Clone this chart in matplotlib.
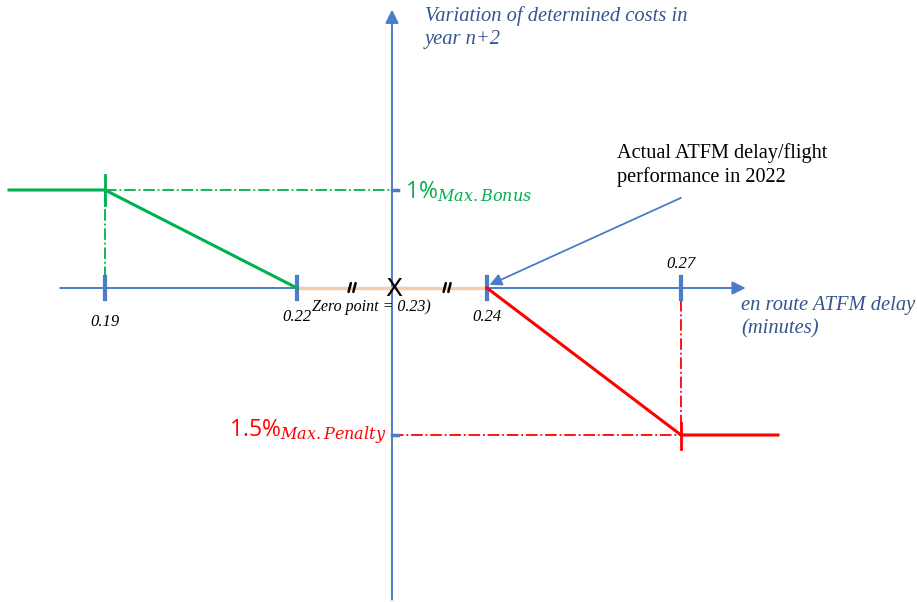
import numpy as np
import matplotlib.pyplot as plt

# tick values on the delay axis (minutes) and the cost variation (%)
tick_values = [0.19, 0.22, 0.24, 0.27]
tick_labels = ["0.19", "0.22", "0.24", "0.27"]
zero_point = 0.23
actual_delay = 0.24
max_bonus = 1.0
max_penalty = -1.5

bonus_x = [0.175, 0.19, 0.22]
bonus_y = [1.0, 1.0, 0.0]
penalty_x = [0.24, 0.27, 0.285]
penalty_y = [0.0, -1.5, -1.5]
neutral_x = [0.22, 0.24]
break_x = [0.2258, 0.2358]

# schematic axis: the segment between 0.22 and 0.24 is stretched (axis break)
anchor_val = np.array(tick_values)
anchor_pix = np.array([105.0, 297.0, 487.0, 681.0])
W, H = 917, 602
y0_pix, px_per_pct = 288.0, 98.0


def fwd(x):
    x = np.asarray(x, dtype=float)
    out = np.interp(x, anchor_val, anchor_pix)
    sl = (anchor_pix[1] - anchor_pix[0]) / (anchor_val[1] - anchor_val[0])
    sr = (anchor_pix[-1] - anchor_pix[-2]) / (anchor_val[-1] - anchor_val[-2])
    out = np.where(x < anchor_val[0], anchor_pix[0] + (x - anchor_val[0]) * sl, out)
    out = np.where(x > anchor_val[-1], anchor_pix[-1] + (x - anchor_val[-1]) * sr, out)
    return out


def inv(p):
    p = np.asarray(p, dtype=float)
    out = np.interp(p, anchor_pix, anchor_val)
    sl = (anchor_pix[1] - anchor_pix[0]) / (anchor_val[1] - anchor_val[0])
    sr = (anchor_pix[-1] - anchor_pix[-2]) / (anchor_val[-1] - anchor_val[-2])
    out = np.where(p < anchor_pix[0], anchor_val[0] + (p - anchor_pix[0]) / sl, out)
    out = np.where(p > anchor_pix[-1], anchor_val[-1] + (p - anchor_pix[-1]) / sr, out)
    return out


GREEN = "#00B050"
RED = "#FF0000"
AXIS = "#4A7CC9"
TXT = "#35558C"
SERIF = "Liberation Serif"

fig = plt.figure(figsize=(W / 100, H / 100), dpi=100)
ax = fig.add_axes([0, 0, 1, 1])
ax.set_xscale("function", functions=(fwd, inv))
ax.set_xlim(float(inv(0)), float(inv(W)))
ax.set_ylim((y0_pix - H) / px_per_pct, y0_pix / px_per_pct)
ax.axis("off")

# axes with arrow heads
ax.annotate("", xy=(0.28, 0), xytext=(0.183, 0),
            arrowprops=dict(arrowstyle="-|>", color=AXIS, lw=1.4,
                            mutation_scale=20, shrinkA=0, shrinkB=0))
ax.annotate("", xy=(zero_point, 2.84), xytext=(zero_point, -3.18),
            arrowprops=dict(arrowstyle="-|>", color=AXIS, lw=1.4,
                            mutation_scale=20, shrinkA=0, shrinkB=0))

# neutral band between the two thresholds
ax.plot(neutral_x, [0, 0], color="#F8CBAD", lw=2.5, zorder=3)

# break marks: two short slanted strokes
for bx in break_x:
    for off in (-0.00025, 0.00025):
        ax.plot([bx + off - 0.00012, bx + off + 0.00012], [-0.04, 0.05],
                color="black", lw=1.8, solid_capstyle="round", zorder=6)

# tick marks
for v in tick_values:
    ax.plot([v, v], [-0.11, 0.11], color=AXIS, lw=3, zorder=4)
for yv in [max_bonus, max_penalty]:
    ax.plot([zero_point, zero_point + 0.0006], [yv, yv], color=AXIS, lw=2.5, zorder=4)

# bonus and penalty curves
ax.plot(bonus_x, bonus_y, color=GREEN, lw=2.2, zorder=5)
ax.plot(penalty_x, penalty_y, color=RED, lw=2.2, zorder=5)
ax.plot([0.19, 0.19], [max_bonus - 0.15, max_bonus + 0.15], color=GREEN, lw=2, zorder=5)
ax.plot([0.27, 0.27], [max_penalty - 0.14, max_penalty + 0.12], color=RED, lw=2, zorder=5)

# dash-dot guides
ax.plot([0.19, zero_point], [max_bonus, max_bonus], color=GREEN, lw=1.3, ls="-.")
ax.plot([0.19, 0.19], [max_bonus, 0.1], color=GREEN, lw=1.3, ls="-.")
ax.plot([zero_point, 0.27], [max_penalty, max_penalty], color=RED, lw=1.3, ls="-.")
ax.plot([0.27, 0.27], [-0.12, max_penalty], color=RED, lw=1.3, ls="-.")

# tick labels
lab_y = [-0.35, -0.3, -0.3, 0.24]
for v, t, ly in zip(tick_values, tick_labels, lab_y):
    ax.text(v, ly, t, ha="center", va="center", fontsize=12,
            family=SERIF, style="italic")

ax.text(zero_point + 0.0002, -0.01, "X", ha="center", va="center", fontsize=18,
        family="DejaVu Sans", zorder=6)
ax.text(0.2278, -0.19, "Zero point = 0.23)", ha="center", va="center",
        fontsize=11.5, family=SERIF, style="italic")

ax.text(405 / W, 1 - 192 / H, r"1%$_{Max.Bonus}$", transform=ax.transAxes,
        color=GREEN, fontsize=16.5, ha="left", va="center",
        family="Open Sans", math_fontfamily="dejavuserif")
ax.text(386 / W, 1 - 432 / H, r"1.5%$_{Max.Penalty}$", transform=ax.transAxes,
        color=RED, fontsize=16.5, ha="right", va="center",
        family="Open Sans", math_fontfamily="dejavuserif")

ax.text(425 / W, 1 - 6 / H, "Variation of determined costs in\nyear n+2",
        transform=ax.transAxes, ha="left", va="top", fontsize=14.8,
        family=SERIF, style="italic", color=TXT, linespacing=1.3)
ax.text(741 / W, 1 - 296 / H, "en route ATFM delay\n(minutes)",
        transform=ax.transAxes, ha="left", va="top", fontsize=14.8,
        family=SERIF, style="italic", color=TXT, linespacing=1.3)
ax.text(617 / W, 1 - 143 / H, "Actual ATFM delay/flight\nperformance in 2022",
        transform=ax.transAxes, ha="left", va="top", fontsize=14.6,
        family=SERIF, color="black", linespacing=1.3)

# pointer to the actual performance
ax.annotate("", xy=(actual_delay, 0.02), xytext=(0.27, 0.92),
            arrowprops=dict(arrowstyle="-|>", color=AXIS, lw=1.3,
                            mutation_scale=18, shrinkA=0, shrinkB=2))

fig.savefig("out.png", dpi=100)
